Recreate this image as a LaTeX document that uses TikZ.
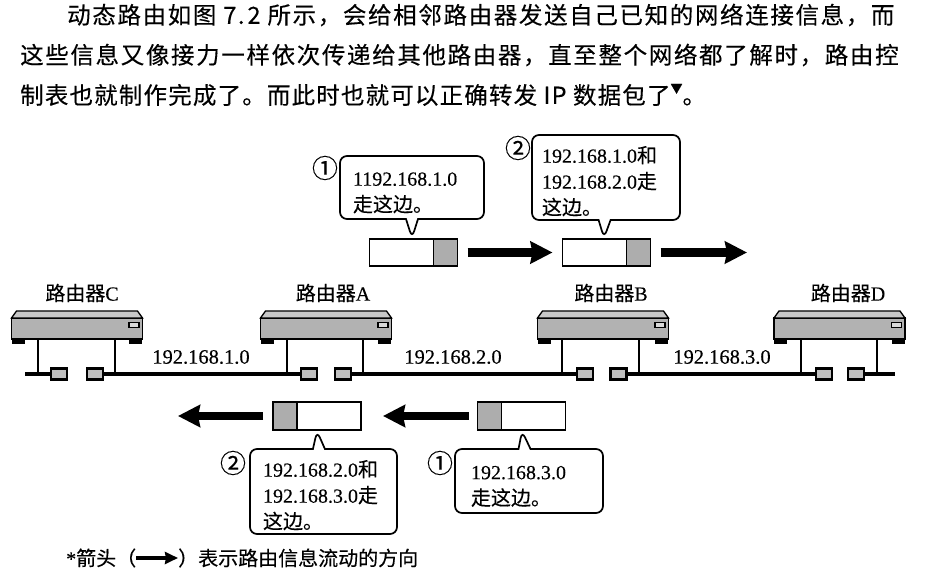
\documentclass[tikz,border=0pt]{standalone}
\usepackage{fontspec}
\setmainfont[FakeBold=0.25]{Liberation Serif}
\newfontfamily\cjk[FakeBold=0.25]{Noto Sans CJK SC}
\newfontfamily\cjkbody[LetterSpace=7,FakeBold=0.25]{Noto Sans CJK SC}
\newfontfamily\cjklast[LetterSpace=5,FakeBold=0.25]{Noto Sans CJK SC}
\newcommand{\bubblegap}{\rule{0pt}{24pt}}
\usepackage{tikz}
\usepackage{xcolor}
\usetikzlibrary{shapes,shapes.callouts,arrows.meta,positioning}

\tikzset{
  paraline/.style={anchor=west, inner sep=0pt, font=\fontsize{23.5}{28}\selectfont\cjkbody},
  bubble/.style={rectangle callout, draw, line width=1.7pt, rounded corners=7pt, inner sep=0pt, align=left, callout pointer width=12pt, font=\fontsize{20}{26}\selectfont},
  num/.style={inner sep=0pt, font=\fontsize{26}{26}\selectfont\cjk},
  pktw/.style={rectangle, draw, line width=1.7pt, fill=white, outer sep=0pt, minimum width=64pt, minimum height=27pt, inner sep=0pt},
  pktg/.style={rectangle, draw, line width=1.7pt, fill=black!32, outer sep=0pt, minimum width=24pt, minimum height=27pt, inner sep=0pt},
  flow/.style={line width=8.5pt, -{Stealth[length=22pt,width=22pt,inset=2pt]}},
  rtr/.style={rectangle, draw, line width=1.3pt, fill=black!30, outer sep=0pt, minimum width=131pt, minimum height=21pt, inner sep=0pt},
  roof/.style={draw, line width=1.3pt, fill=black!22},
  foot/.style={rectangle, fill=black, minimum width=13pt, minimum height=5pt, inner sep=0pt},
  lamp/.style={rectangle, draw, line width=1.3pt, fill=black!15, minimum width=10pt, minimum height=5pt, inner sep=0pt},
  port/.style={rectangle, draw, line width=2.6pt, fill=black!25, minimum width=16pt, minimum height=10.5pt, inner sep=0pt},
  bus/.style={line width=4pt},
  leg/.style={line width=2pt},
  rname/.style={inner sep=0pt, font=\fontsize{20}{24}\selectfont},
  net/.style={inner sep=0pt, font=\fontsize{20.5}{24}\selectfont}
}

\begin{document}
\begin{tikzpicture}[x=1pt,y=-1pt]
\useasboundingbox (0,0) rectangle (951,569);

\node[paraline] (line1) at (67,15) {动态路由如图 7.\hspace{3pt}2 所示，会给相邻路由器发送自己已知的网络连接信息，而};
\node[paraline] (line2) at (20,55) {这些信息又像接力一样依次传递给其他路由器，直至整个网络都了解时，路由控};
\node[paraline, font=\fontsize{23.5}{28}\selectfont\cjklast] (line3) at (20,95) {制表也就制作完成了。而此时也就可以正确转发 IP 数据包了\raisebox{11pt}{\fontsize{12}{12}\selectfont ▼}。};

\node[pktw] (pktA) at (401.5,252.5) {};
\node[pktg, right=0pt of pktA] (pktAg) {};
\node[pktw] (pktB) at (594.5,252.5) {};
\node[pktg, right=0pt of pktB] (pktBg) {};
\node[pktg, minimum height=28pt] (pktCg) at (489.5,416) {};
\node[pktw, minimum height=28pt, right=0pt of pktCg] (pktC) {};
\node[pktg, minimum height=28pt] (pktDg) at (285,416) {};
\node[pktw, minimum height=28pt, right=0pt of pktDg] (pktD) {};

\coordinate (flowR) at (747,252.5);
\coordinate (flowL) at (178,416);
\draw[flow, shorten <=10pt, shorten >=10pt] (pktAg) -- (pktB);
\draw[flow, shorten <=10pt] (pktBg) -- (flowR);
\draw[flow, shorten <=9pt, shorten >=22pt] (pktCg) -- (pktD);
\draw[flow, shorten <=10pt] (pktDg) -- (flowL);

\node[bubble, minimum width=144pt, minimum height=63pt, text width=118pt, callout absolute pointer={(412,238)}] (msgA) at (412,187.5) {\bubblegap 1192.168.1.0\\{\cjk 走这边。}};
\node[bubble, minimum width=148pt, minimum height=85pt, text width=128pt, callout absolute pointer={(604,238)}] (msgB) at (606,177.5) {\bubblegap 192.168.1.0{\cjk 和}\\192.168.2.0{\cjk 走}\\{\cjk 这边。}};
\node[bubble, minimum width=147pt, minimum height=85pt, text width=121pt, callout absolute pointer={(317,431)}] (msgD) at (323.5,491.5) {\bubblegap 192.168.2.0{\cjk 和}\\192.168.3.0{\cjk 走}\\{\cjk 这边。}};
\node[bubble, minimum width=148pt, minimum height=64pt, text width=116pt, callout absolute pointer={(522,431)}] (msgC) at (529,481) {\bubblegap 192.168.3.0\\{\cjk 走这边。}};

\node[num] (numA) at (325,168) {①};
\node[num] (numB) at (518,148) {②};
\node[num] (numD) at (233,463) {②};
\node[num] (numC) at (440,463) {①};

\node[rtr] (rtrC) at (77,328.5) {};
\draw[roof] (rtrC.north west) -- ([shift={(5pt,7pt)}]rtrC.north west) -- ([shift={(-5pt,7pt)}]rtrC.north east) -- (rtrC.north east) -- cycle;
\node[foot, below right=0pt and 0pt of rtrC.south west] (footC1) {};
\node[foot, below left=0pt and 0pt of rtrC.south east] (footC2) {};
\node[lamp, below left=4pt and 3pt of rtrC.north east] (lampC) {};
\node[rname] (nameC) at (82,293) {{\cjk 路由器}C};

\node[rtr] (rtrA) at (326,328.5) {};
\draw[roof] (rtrA.north west) -- ([shift={(5pt,7pt)}]rtrA.north west) -- ([shift={(-5pt,7pt)}]rtrA.north east) -- (rtrA.north east) -- cycle;
\node[foot, below right=0pt and 0pt of rtrA.south west] (footA1) {};
\node[foot, below left=0pt and 0pt of rtrA.south east] (footA2) {};
\node[lamp, below left=4pt and 3pt of rtrA.north east] (lampA) {};
\node[rname] (nameA) at (333,293) {{\cjk 路由器}A};

\node[rtr] (rtrB) at (603,328.5) {};
\draw[roof] (rtrB.north west) -- ([shift={(5pt,7pt)}]rtrB.north west) -- ([shift={(-5pt,7pt)}]rtrB.north east) -- (rtrB.north east) -- cycle;
\node[foot, below right=0pt and 0pt of rtrB.south west] (footB1) {};
\node[foot, below left=0pt and 0pt of rtrB.south east] (footB2) {};
\node[lamp, below left=4pt and 3pt of rtrB.north east] (lampB) {};
\node[rname] (nameB) at (611,293) {{\cjk 路由器}B};

\node[rtr] (rtrD) at (839.5,328.5) {};
\draw[roof] (rtrD.north west) -- ([shift={(5pt,7pt)}]rtrD.north west) -- ([shift={(-5pt,7pt)}]rtrD.north east) -- (rtrD.north east) -- cycle;
\node[foot, below right=0pt and 0pt of rtrD.south west] (footD1) {};
\node[foot, below left=0pt and 0pt of rtrD.south east] (footD2) {};
\node[lamp, below left=4pt and 3pt of rtrD.north east] (lampD) {};
\node[rname] (nameD) at (848,293) {{\cjk 路由器}D};

\coordinate (busL) at (25,374);
\coordinate (busR) at (895,374);
\coordinate (tapC1) at (38,374);
\coordinate (tapC2) at (115,374);
\coordinate (tapA1) at (287,374);
\coordinate (tapA2) at (363,374);
\coordinate (tapB1) at (562,374);
\coordinate (tapB2) at (639,374);
\coordinate (tapD1) at (801,374);
\coordinate (tapD2) at (877,374);

\draw[leg] (tapC1 |- rtrC.south) -- (tapC1);
\draw[leg] (tapC2 |- rtrC.south) -- (tapC2);
\draw[leg] (tapA1 |- rtrA.south) -- (tapA1);
\draw[leg] (tapA2 |- rtrA.south) -- (tapA2);
\draw[leg] (tapB1 |- rtrB.south) -- (tapB1);
\draw[leg] (tapB2 |- rtrB.south) -- (tapB2);
\draw[leg] (tapD1 |- rtrD.south) -- (tapD1);
\draw[leg] (tapD2 |- rtrD.south) -- (tapD2);

\node[port] (portC1) at (59,374) {};
\node[port] (portC2) at (95,374) {};
\node[port] (portA1) at (309,374) {};
\node[port] (portA2) at (343,374) {};
\node[port] (portB1) at (585,374) {};
\node[port] (portB2) at (618.5,374) {};
\node[port] (portD1) at (824,374) {};
\node[port] (portD2) at (856,374) {};

\draw[bus] (busL) -- (portC1);
\draw[bus] (portC2) -- (portA1);
\draw[bus] (portA2) -- (portB1);
\draw[bus] (portB2) -- (portD1);
\draw[bus] (portD2) -- (busR);

\node[net] (netA) at (201,357) {192.168.1.0};
\node[net] (netB) at (453,357) {192.168.2.0};
\node[net] (netC) at (722,357) {192.168.3.0};

\node[inner sep=0pt, anchor=west, font=\fontsize{20}{24}\selectfont] (noteL) at (66,558) {*{\cjk 箭头（}};
\node[inner sep=0pt, anchor=west, font=\fontsize{20}{24}\selectfont\cjk] (noteR) at (178,558) {）表示路由信息流动的方向};
\draw[line width=4pt, -{Stealth[length=13pt,width=12pt,inset=1pt]}] (noteL) -- (noteR);
\end{tikzpicture}
\end{document}
